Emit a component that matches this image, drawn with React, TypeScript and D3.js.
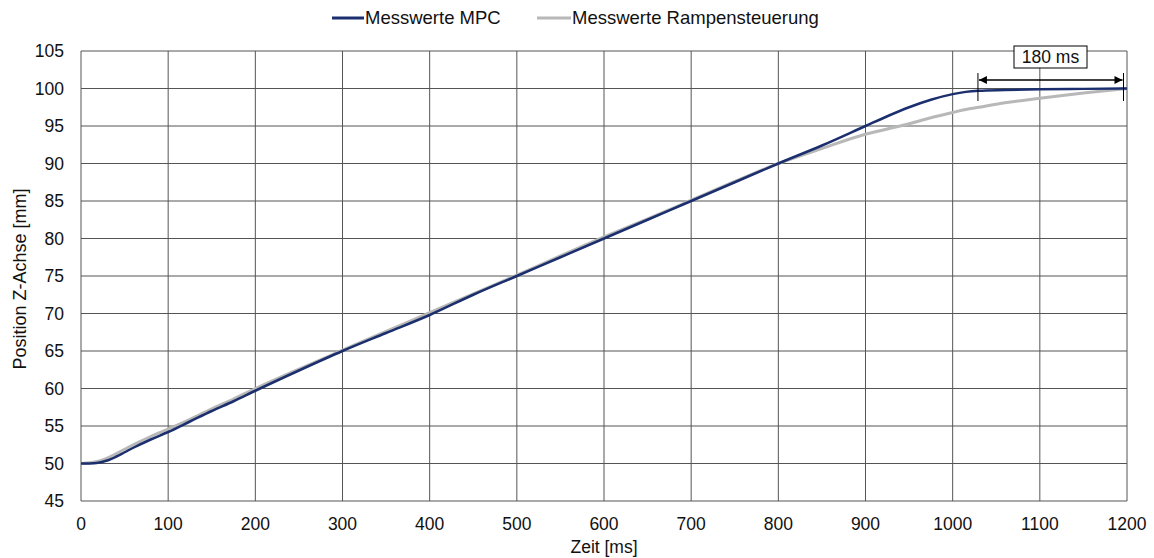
import React from "react";
import * as d3 from "d3";

const timeMs = [0, 10, 20, 30, 40, 50, 60, 80, 100, 125, 150, 175, 200, 250, 300, 350, 400, 450, 500, 550, 600, 650, 700, 750, 800, 850, 900, 925, 950, 975, 1000, 1015, 1030, 1060, 1100, 1150, 1200];
const mpcValues = [50.0, 50.0, 50.1, 50.4, 50.9, 51.5, 52.1, 53.2, 54.2, 55.6, 57.0, 58.3, 59.7, 62.4, 65.0, 67.4, 69.8, 72.5, 75.0, 77.5, 80.0, 82.5, 85.0, 87.5, 90.0, 92.4, 95.0, 96.3, 97.5, 98.5, 99.25, 99.55, 99.7, 99.8, 99.9, 99.95, 100.0];
const rampValues = [50.0, 50.1, 50.3, 50.7, 51.3, 51.9, 52.5, 53.6, 54.6, 55.9, 57.3, 58.6, 60.0, 62.6, 65.1, 67.6, 70.1, 72.6, 75.1, 77.7, 80.2, 82.6, 85.1, 87.6, 90.0, 92.0, 93.9, 94.6, 95.3, 96.1, 96.8, 97.2, 97.5, 98.1, 98.7, 99.4, 100.0];

const xTicks = [0, 100, 200, 300, 400, 500, 600, 700, 800, 900, 1000, 1100, 1200];
const yTicks = [45, 50, 55, 60, 65, 70, 75, 80, 85, 90, 95, 100, 105];

const seriesNames = ["Messwerte MPC", "Messwerte Rampensteuerung"];
const annotationStart = 1029;
const annotationEnd = 1196;
const annotationLabel = "180 ms";

const W = 1154;
const H = 558;
const FONT = "'Liberation Sans', Arial, sans-serif";

export default function App() {
  const x = d3.scaleLinear().domain([0, 1200]).range([81, 1127]);
  const y = d3.scaleLinear().domain([45, 105]).range([501, 51]);

  const line = d3
    .line<[number, number]>()
    .x((d) => x(d[0]))
    .y((d) => y(d[1]))
    .curve(d3.curveMonotoneX);

  const mpcData = timeMs.map((t, i) => [t, mpcValues[i]] as [number, number]);
  const rampData = timeMs.map((t, i) => [t, rampValues[i]] as [number, number]);

  const gridColor = "#555";
  const mpcColor = "#1b2f6e";
  const rampColor = "#b8b8b8";

  const ax0 = x(annotationStart);
  const ax1 = x(annotationEnd);
  const ay = 80;

  return (
    <svg
      width={W}
      height={H}
      style={{ position: "absolute", left: 0, top: 0, background: "#fff" }}
      fontFamily={FONT}
    >
      <defs>
        <marker id="arr" viewBox="0 0 10 10" refX="10" refY="5" markerWidth="11" markerHeight="8" orient="auto-start-reverse" markerUnits="userSpaceOnUse">
          <path d="M0,0 L10,5 L0,10 z" fill="#000" />
        </marker>
      </defs>
      {/* grid */}
      {xTicks.map((t) => (
        <line key={"gx" + t} x1={x(t)} x2={x(t)} y1={y(105)} y2={y(45)} stroke={gridColor} strokeWidth={1} />
      ))}
      {yTicks.map((t) => (
        <line key={"gy" + t} x1={x(0)} x2={x(1200)} y1={y(t)} y2={y(t)} stroke={gridColor} strokeWidth={1} />
      ))}
      {/* tick labels */}
      {xTicks.map((t) => (
        <text key={"tx" + t} x={x(t)} y={530} textAnchor="middle" fontSize={17.5} fill="#111">
          {t}
        </text>
      ))}
      {yTicks.map((t) => (
        <text key={"ty" + t} x={64} y={y(t) + 6} textAnchor="end" fontSize={17.5} fill="#111">
          {t}
        </text>
      ))}
      {/* axis titles */}
      <text x={604} y={553} textAnchor="middle" fontSize={17.5} fill="#111">
        Zeit [ms]
      </text>
      <text transform={`translate(26,279) rotate(-90)`} textAnchor="middle" fontSize={18} fill="#111">
        Position Z-Achse [mm]
      </text>
      {/* series */}
      <path d={line(rampData) || ""} fill="none" stroke={rampColor} strokeWidth={3} />
      <path d={line(mpcData) || ""} fill="none" stroke={mpcColor} strokeWidth={2.5} />
      {/* annotation */}
      <line x1={ax0} x2={ax0} y1={73} y2={101} stroke="#000" strokeWidth={1} />
      <line x1={ax1} x2={ax1} y1={73} y2={101} stroke="#000" strokeWidth={1} />
      <line x1={ax0 + 1} x2={ax1 - 1} y1={ay} y2={ay} stroke="#000" strokeWidth={1.5} markerStart="url(#arr)" markerEnd="url(#arr)" />
      <rect x={1014} y={46} width={73} height={22} fill="#fff" stroke="#000" strokeWidth={1} />
      <text x={1050.5} y={63} textAnchor="middle" fontSize={17.5} fill="#111">
        {annotationLabel}
      </text>
      {/* legend */}
      <line x1={332} x2={364} y1={18} y2={18} stroke={mpcColor} strokeWidth={3} />
      <text x={365} y={24} fontSize={18.5} fill="#111">
        {seriesNames[0]}
      </text>
      <line x1={537} x2={571} y1={18} y2={18} stroke={rampColor} strokeWidth={3} />
      <text x={572} y={24} fontSize={18.5} fill="#111">
        {seriesNames[1]}
      </text>
    </svg>
  );
}
